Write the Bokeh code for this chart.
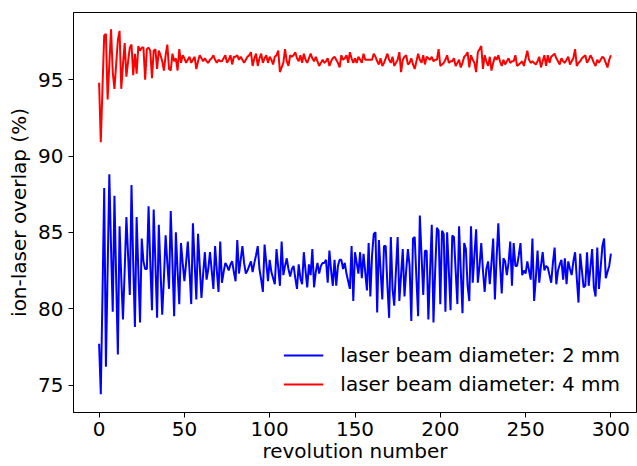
from bokeh.plotting import figure
from bokeh.models import Range1d, FixedTicker, Legend, LegendItem
from bokeh.embed import file_html
from bokeh.resources import INLINE

revolution = list(range(0, 301))

overlap_2mm = [
    77.7, 74.4, 81.0, 87.9, 76.2, 82.5, 88.8, 84.0, 79.8, 87.4,
    82.0, 77.0, 85.4, 82.0, 79.3, 82.5, 86.0, 83.5, 80.9, 88.1,
    83.0, 78.8, 86.0, 82.5, 79.1, 84.6, 83.1, 82.6, 82.6, 86.7,
    83.0, 79.9, 86.5, 83.0, 79.4, 85.5, 82.5, 79.6, 82.0, 84.8,
    83.0, 81.3, 86.4, 83.0, 79.5, 85.0, 82.5, 80.3, 84.3, 83.0,
    81.8, 83.0, 84.4, 82.5, 80.3, 85.6, 83.0, 80.6, 84.9, 82.8,
    80.7, 82.3, 83.7, 81.9, 82.6, 83.7, 82.5, 81.3, 84.1, 82.5,
    81.1, 84.4, 81.7, 82.4, 83.0, 82.8, 82.5, 82.9, 83.1, 82.4,
    81.8, 84.5, 82.3, 83.2, 84.1, 83.0, 82.3, 82.5, 82.8, 83.1,
    82.4, 83.0, 83.5, 84.1, 82.6, 81.9, 81.1, 84.2, 83.0, 81.8,
    83.2, 82.4, 82.0, 81.6, 83.9, 82.7, 81.5, 84.4, 82.2, 82.8,
    83.3, 82.6, 82.1, 82.6, 82.8, 82.0, 81.3, 82.9, 82.0, 81.6,
    83.7, 82.5, 81.4, 82.9, 82.2, 83.9, 81.4, 82.4, 83.0, 82.3,
    82.8, 83.0, 83.0, 83.2, 81.7, 83.8, 82.5, 81.5, 83.2, 81.5,
    82.8, 83.2, 83.2, 82.6, 83.0, 82.3, 81.8, 81.3, 84.1, 80.5,
    83.7, 83.0, 82.3, 83.7, 82.0, 83.6, 82.4, 81.2, 84.3, 80.8,
    83.5, 84.9, 85.0, 79.75, 84.5, 82.5, 80.6, 84.1, 84.1, 81.5,
    79.4, 84.7, 81.3, 80.2, 82.5, 84.7, 80.5, 82.2, 83.9, 80.8,
    82.5, 83.9, 82.8, 79.2, 84.6, 84.7, 82.0, 79.5, 86.1, 83.5,
    80.9, 83.8, 83.8, 79.3, 82.5, 85.5, 79.1, 82.5, 85.3, 85.1,
    80.3, 85.1, 84.9, 79.8, 85.0, 82.5, 79.9, 84.8, 84.7, 82.5,
    80.3, 85.4, 82.5, 79.7, 84.3, 83.9, 81.5, 80.5, 85.4, 81.7,
    83.5, 85.2, 81.7, 82.8, 84.3, 82.5, 81.1, 82.6, 83.1, 81.6,
    83.0, 84.6, 80.6, 83.3, 85.6, 83.0, 81.0, 83.3, 83.1, 82.2,
    83.0, 84.4, 81.5, 84.3, 82.8, 82.8, 83.5, 84.3, 82.2, 82.5,
    82.3, 83.1, 82.5, 81.9, 84.6, 80.5, 82.0, 83.8, 81.7, 82.8,
    83.7, 82.5, 82.8, 82.7, 82.2, 81.7, 83.0, 84.0, 81.6, 82.5,
    82.9, 83.2, 81.9, 83.3, 81.6, 83.1, 82.6, 82.2, 83.1, 83.7,
    82.0, 80.4, 83.6, 82.5, 81.4, 81.5, 83.7, 81.5, 82.7, 83.9,
    81.4, 80.8, 84.0, 81.3, 82.7, 84.1, 84.6, 82.0, 82.4, 82.8,
    83.6,
]

overlap_4mm = [
    94.8, 90.9, 94.5, 97.9, 98.0, 93.7, 96.0, 98.3, 95.5, 94.4,
    96.0, 97.6, 98.2, 94.4, 96.0, 97.4, 95.2, 96.2, 97.1, 97.3,
    95.3, 96.7, 95.4, 97.2, 96.9, 97.1, 97.1, 95.0, 97.0, 97.1,
    96.9, 95.1, 96.9, 97.0, 95.7, 96.9, 96.6, 96.2, 95.6, 96.6,
    97.3, 95.7, 95.6, 96.7, 96.2, 96.4, 95.6, 97.0, 96.1, 96.6,
    96.4, 96.1, 96.3, 96.5, 96.1, 96.3, 96.5, 95.7, 96.2, 96.6,
    96.4, 96.2, 96.4, 96.2, 96.1, 96.3, 96.4, 96.6, 96.3, 96.1,
    96.3, 96.2, 96.2, 96.4, 96.6, 96.1, 96.3, 96.6, 96.0, 96.5,
    96.5, 96.6, 96.3, 96.5, 96.3, 96.1, 96.3, 96.5, 96.6, 96.8,
    95.9, 96.4, 96.7, 95.9, 96.4, 96.7, 96.1, 96.4, 96.6, 96.1,
    96.5, 96.3, 96.0, 96.5, 96.6, 96.9, 95.5, 95.8, 96.1, 97.0,
    96.2, 95.9, 96.6, 96.5, 96.6, 96.8, 96.4, 96.2, 96.6, 96.1,
    96.7, 96.3, 96.1, 96.4, 96.7, 96.4, 96.2, 96.5, 96.2, 95.9,
    96.1, 96.3, 96.1, 96.2, 96.4, 95.9, 96.2, 96.4, 96.5, 96.3,
    96.1, 95.8, 96.6, 96.3, 96.4, 96.6, 96.1, 96.8, 96.4, 96.1,
    96.4, 96.1, 96.5, 96.3, 96.1, 96.7, 96.3, 96.3, 96.3, 96.3,
    96.3, 96.7, 96.5, 96.2, 96.0, 96.4, 95.9, 96.1, 96.4, 96.7,
    96.3, 96.1, 96.5, 95.9, 96.1, 96.3, 96.8, 95.5, 96.3, 96.5,
    96.6, 96.0, 96.1, 96.4, 96.0, 95.7, 96.2, 96.7, 96.3, 96.1,
    96.6, 96.0, 96.5, 96.4, 96.3, 96.5, 96.2, 96.3, 96.3, 97.0,
    95.9, 96.0, 96.1, 96.3, 96.6, 96.1, 96.2, 96.2, 96.4, 95.9,
    96.1, 96.3, 95.8, 96.1, 96.5, 96.6, 96.8, 95.8, 96.6, 96.3,
    96.1, 95.5, 96.8, 97.0, 97.2, 95.7, 96.6, 96.2, 95.9, 96.5,
    95.6, 96.1, 96.5, 96.3, 96.6, 96.2, 95.9, 96.3, 96.0, 96.2,
    96.4, 96.1, 96.2, 96.2, 96.6, 95.9, 96.0, 96.1, 96.2, 95.9,
    96.4, 96.9, 96.3, 96.1, 96.2, 96.1, 96.0, 96.2, 96.5, 95.8,
    96.2, 96.6, 95.9, 96.6, 96.1, 96.5, 96.6, 96.7, 96.4, 96.2,
    96.0, 96.4, 96.2, 96.1, 96.3, 96.5, 96.0, 96.2, 96.4, 97.0,
    95.9, 96.1, 96.2, 96.4, 96.5, 96.6, 96.1, 96.3, 96.6, 96.4,
    96.1, 95.9, 96.3, 96.1, 96.3, 96.5, 96.4, 96.1, 95.8, 96.3,
    96.6,
]

x_ticks = [0, 50, 100, 150, 200, 250, 300]
y_ticks = [75, 80, 85, 90, 95]
labels = ["laser beam diameter: 2 mm", "laser beam diameter: 4 mm"]

FONT = "DejaVu Sans"
FS = "20px"

p = figure(width=637, height=466, output_backend="svg", toolbar_location=None,
           x_range=Range1d(-15, 315), y_range=Range1d(73.2, 99.4),
           min_border_left=73, min_border_top=12, min_border_right=1, min_border_bottom=54)

p.background_fill_color = "white"
p.border_fill_color = "white"
p.outline_line_color = "black"
p.outline_line_width = 1
p.grid.visible = False

r1 = p.line(revolution, overlap_2mm, line_color="#0000ff", line_width=2)
r2 = p.line(revolution, overlap_4mm, line_color="#ff0000", line_width=2)

for ax in (p.xaxis[0], p.yaxis[0]):
    ax.major_label_text_font = FONT
    ax.major_label_text_font_size = FS
    ax.major_label_text_color = "black"
    ax.axis_label_text_font = FONT
    ax.axis_label_text_font_size = FS
    ax.axis_label_text_font_style = "normal"
    ax.axis_label_text_color = "black"
    ax.major_tick_in = 0
    ax.major_tick_out = 5
    ax.minor_tick_in = 0
    ax.minor_tick_out = 0
    ax.axis_line_color = "black"
    ax.major_tick_line_color = "black"

p.xaxis.ticker = FixedTicker(ticks=x_ticks)
p.yaxis.ticker = FixedTicker(ticks=y_ticks)
p.xaxis.axis_label = "revolution number"
p.yaxis.axis_label = "ion-laser overlap (%)"
p.xaxis.major_label_standoff = 4
p.xaxis.axis_label_standoff = 0
p.yaxis.major_label_standoff = 5
p.yaxis.axis_label_standoff = 4

legend = Legend(items=[LegendItem(label=labels[0], renderers=[r1]),
                       LegendItem(label=labels[1], renderers=[r2])],
                location="bottom_right")
legend.label_text_font = FONT
legend.label_text_font_size = FS
legend.label_text_color = "black"
legend.border_line_alpha = 0
legend.background_fill_alpha = 0
legend.glyph_width = 40
legend.glyph_height = 20
legend.label_height = 20
legend.label_standoff = 17
legend.spacing = 5
legend.padding = 10
legend.margin = 6
p.add_layout(legend)

open("out.html", "w").write(file_html(p, INLINE))
